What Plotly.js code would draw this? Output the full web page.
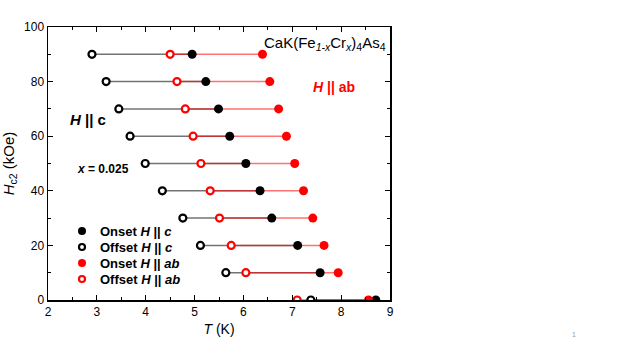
<!DOCTYPE html>
<html>
<head>
<meta charset="utf-8">
<script src="https://cdn.plot.ly/plotly-3.0.1.min.js"></script>
<style>
  html, body { margin: 0; padding: 0; background: #fff; }
  #chart { width: 623px; height: 350px; }
</style>
</head>
<body>
<div id="chart"></div>
<script>
// field values (kOe), one row per field
const fields = [0, 10, 20, 30, 40, 50, 60, 70, 80, 90];

// temperatures (K)
const onsetC   = [8.71, 7.57, 7.11, 6.58, 6.34, 6.05, 5.72, 5.49, 5.23, 4.95];
const offsetC  = [7.38, 5.64, 5.12, 4.76, 4.34, 3.99, 3.68, 3.45, 3.19, 2.90];
const onsetAB  = [8.56, 7.94, 7.65, 7.42, 7.23, 7.05, 6.88, 6.72, 6.54, 6.39];
const offsetAB = [7.10, 6.05, 5.75, 5.51, 5.32, 5.13, 4.97, 4.81, 4.64, 4.50];

const seriesNames = ['Onset <i>H</i> || <i>c</i>', 'Offset <i>H</i> || <i>c</i>',
                     'Onset <i>H</i> || <i>ab</i>', 'Offset <i>H</i> || <i>ab</i>'];

const xTicks = [2, 3, 4, 5, 6, 7, 8, 9];
const yTicks = [0, 20, 40, 60, 80, 100];

const font = 'Liberation Sans, Arial, sans-serif';
const RED = '#ff0000';

// plot area in px, used by the hand-made legend (plotly's own rows are too tall)
const plotW = 342, plotH = 273;
const legendX = 34, legendTop = 69, legendStep = 16;

function segments(from, to) {
    const x = [], y = [];
    fields.forEach((h, i) => {
        x.push(from[i], to[i], null);
        y.push(h, h, null);
    });
    return { x, y };
}

function segmentTrace(from, to, color) {
    const s = segments(from, to);
    return {
        x: s.x, y: s.y,
        mode: 'lines',
        type: 'scatter',
        line: { color, width: 1.5 },
        showlegend: false,
        hoverinfo: 'skip'
    };
}

function markerStyle(color, open, small) {
    if (open) {
        return { symbol: 'circle', size: small ? 6 : 7, color: '#fff', line: { color, width: 2.2 } };
    }
    return { symbol: 'circle', size: small ? 8 : 9, color, line: { width: 0 } };
}

function pointTrace(xs, color, open) {
    return {
        x: xs, y: fields,
        mode: 'markers',
        type: 'scatter',
        marker: markerStyle(color, open, false),
        showlegend: false
    };
}

const styles = [['#000', false], ['#000', true], [RED, false], [RED, true]];

const legendTraces = styles.map(([color, open], i) => ({
    x: [legendX], y: [legendTop - i * legendStep],
    xaxis: 'x2', yaxis: 'y2',
    mode: 'markers',
    type: 'scatter',
    marker: markerStyle(color, open, true),
    showlegend: false
}));

const legendLabels = seriesNames.map((name, i) => ({
    xref: 'x2', yref: 'y2', x: legendX + 16, y: legendTop - i * legendStep,
    xanchor: 'left', yanchor: 'middle',
    text: '<b>' + name + '</b>',
    showarrow: false, font: { family: font, size: 13, color: '#000' }
}));

const traces = [
    segmentTrace(offsetC, onsetC, 'rgba(0,0,0,0.55)'),
    segmentTrace(offsetAB, onsetAB, 'rgba(255,0,0,0.55)'),
    pointTrace(onsetC, '#000', false),
    pointTrace(offsetC, '#000', true),
    pointTrace(onsetAB, RED, false),
    pointTrace(offsetAB, RED, true)
].concat(legendTraces);

const axisCommon = {
    showgrid: false,
    zeroline: false,
    showline: true,
    linecolor: '#000',
    linewidth: 1.5,
    mirror: 'ticks',
    ticks: 'inside',
    ticklen: 5,
    tickwidth: 1,
    tickcolor: '#000',
    tickfont: { family: font, size: 12, color: '#000' },
    fixedrange: true
};

const layout = {
    width: 623,
    height: 350,
    margin: { l: 48, r: 233, t: 27, b: 50 },
    paper_bgcolor: '#fff',
    plot_bgcolor: '#fff',
    font: { family: font, color: '#000' },
    showlegend: false,
    xaxis: Object.assign({}, axisCommon, {
        range: [2, 9],
        tickvals: xTicks,
        minor: { dtick: 0.5, ticks: 'inside', ticklen: 3, tickcolor: '#000' },
        title: { text: '<i>T</i> (K)', font: { family: font, size: 14, color: '#000' }, standoff: 6 }
    }),
    yaxis: Object.assign({}, axisCommon, {
        range: [0, 100],
        tickvals: yTicks,
        minor: { dtick: 10, ticks: 'inside', ticklen: 3, tickcolor: '#000' },
        title: { text: '<i>H</i><sub>c2</sub> (kOe)', font: { family: font, size: 15, color: '#000' }, standoff: 6 }
    }),
    xaxis2: { overlaying: 'x', anchor: 'y2', range: [0, plotW], visible: false, fixedrange: true },
    yaxis2: { overlaying: 'y', anchor: 'x2', range: [0, plotH], visible: false, fixedrange: true },
    annotations: [
        {
            xref: 'paper', yref: 'paper', x: 0.995, y: 0.94, xanchor: 'right', yanchor: 'middle',
            text: 'CaK(Fe<sub><i>1-x</i></sub>Cr<sub><i>x</i></sub>)<sub>4</sub>As<sub>4</sub>',
            showarrow: false, font: { family: font, size: 15, color: '#000' }
        },
        {
            xref: 'paper', yref: 'paper', x: 0.836, y: 0.78, xanchor: 'center', yanchor: 'middle',
            text: '<b><i>H</i> || ab</b>',
            showarrow: false, font: { family: font, size: 14, color: RED }
        },
        {
            xref: 'paper', yref: 'paper', x: 0.117, y: 0.66, xanchor: 'center', yanchor: 'middle',
            text: '<b><i>H</i> || c</b>',
            showarrow: false, font: { family: font, size: 15, color: '#000' }
        },
        {
            xref: 'paper', yref: 'paper', x: 0.08, y: 0.48, xanchor: 'left', yanchor: 'middle',
            text: '<b><i>x</i> = 0.025</b>',
            showarrow: false, font: { family: font, size: 12, color: '#000' }
        },
        {
            xref: 'paper', yref: 'paper', x: 1.538, y: -0.125, xanchor: 'center', yanchor: 'middle',
            text: '1',
            showarrow: false, font: { family: font, size: 7, color: '#999' }
        }
    ].concat(legendLabels)
};

Plotly.newPlot('chart', traces, layout, { displayModeBar: false, staticPlot: true });
</script>
</body>
</html>
